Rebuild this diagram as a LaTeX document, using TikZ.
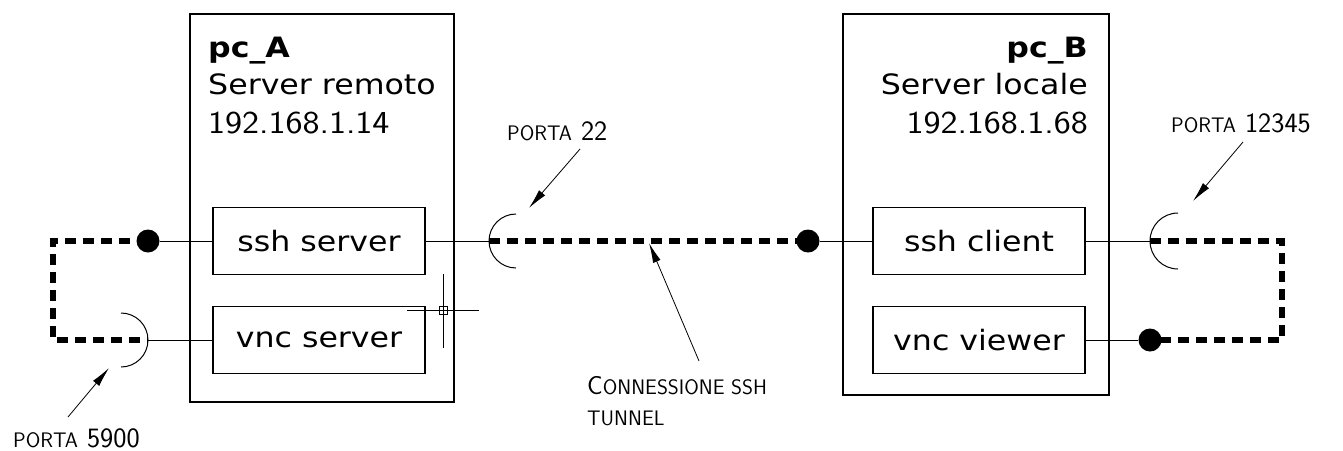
\documentclass[tikz,border=0pt]{standalone}
\usepackage{fontspec}
\usepackage{graphicx}
\newfontfamily\boxfont{DejaVu Sans}[FakeStretch=1.13]
\usetikzlibrary{arrows.meta}
\newcommand\smallcp[1]{{\fontsize{21}{21}\selectfont #1}}
\newcommand\bigcp[1]{{\fontsize{26}{26}\selectfont #1}}
\newcommand\digcp[1]{{\fontsize{28}{28}\selectfont #1}}
\newcommand\ipwide[1]{\scalebox{1.13}[1]{#1}}
\begin{document}
\begin{tikzpicture}[x=1pt,y=-1pt,
  frame/.style={draw,line width=1.2pt,inner sep=0pt},
  box/.style={draw,line width=1.2pt,minimum width=212pt,minimum height=67pt,inner sep=0pt,
    font=\boxfont\fontsize{28}{30}\selectfont},
  thinline/.style={line width=1pt},
  tunnel/.style={line width=5.5pt,dash pattern=on 11pt off 7pt,line join=miter},
  dot/.style={circle,fill,inner sep=0pt,minimum size=23pt},
  ptr/.style={line width=0.8pt,-{Latex[length=20pt,width=8pt]}},
  head/.style={inner sep=0pt,font=\boxfont\fontsize{28}{30}\selectfont},
  ip/.style={inner sep=0pt,font=\sffamily\fontsize{32}{32}\selectfont},
  lbl/.style={inner sep=0pt,anchor=base west,font=\sffamily}]
\useasboundingbox (0,0) rectangle (1343,450);

% computers
\node[frame,minimum width=264pt,minimum height=388pt] (pcA) at (322,208) {};
\node[frame,minimum width=266pt,minimum height=381pt] (pcB) at (976,204.5) {};

\node[head,anchor=base west,font=\boxfont\bfseries\fontsize{28}{30}\selectfont] (tA1) at (208,57) {pc\_A};
\node[head,anchor=base west] (tA2) at (208,94) {Server remoto};
\node[ip,anchor=base west] (tA3) at (208,133) {\ipwide{192.168.1.14}};

\node[head,anchor=base east,font=\boxfont\bfseries\fontsize{28}{30}\selectfont] (tB1) at (1088,57) {pc\_B};
\node[head,anchor=base east] (tB2) at (1088,94) {Server locale};
\node[ip,anchor=base east] (tB3) at (1088,133) {\ipwide{192.168.1.68}};

% programs
\node[box] (sshs) at (319,241) {ssh server};
\node[box] (vncs) at (319,340) {vnc server};
\node[box] (sshc) at (979,241) {ssh client};
\node[box] (vncv) at (979,340) {vnc viewer};

% ports
\coordinate (p22) at (489,241);
\coordinate (p5900) at (148,340);
\coordinate (p12345) at (1150,241);
\coordinate (cl1) at (53,241);
\coordinate (cl2) at (53,340);
\coordinate (cr1) at (1282,241);
\coordinate (cr2) at (1282,340);

% tunnels (dashed)
\draw[tunnel] (148,241) -- (cl1) -- (cl2) -- (p5900);
\draw[tunnel] (p22) -- (808,241);
\draw[tunnel] (p12345) -- (cr1) -- (cr2) -- (1150,340);

% bullets
\node[dot] (b1) at (148,241) {};
\node[dot] (b2) at (808,241) {};
\node[dot] (b4) at (1150,340) {};

% thin connections
\draw[thinline] (b1) -- (sshs.west);
\draw[thinline] (p5900) -- (vncs.west);
\draw[thinline] (sshs.east) -- (p22);
\draw[thinline] (b2) -- (sshc.west);
\draw[thinline] (sshc.east) -- (p12345);
\draw[thinline] (b4) -- (vncv.east);

% port arcs
\draw[thinline] (516,214) arc[start angle=270,end angle=90,radius=27];
\draw[thinline] (121,313) arc[start angle=-90,end angle=90,radius=27];
\draw[thinline] (1178,213) arc[start angle=270,end angle=90,radius=28];

% crosshair cursor
\draw[line width=0.8pt] (443,274) -- (443,348);
\draw[line width=0.8pt] (407,310) -- (479,310);
\draw[line width=0.8pt] (439,306) rectangle (447,314);

% labels
\node[lbl] (l22) at (507,140) {\smallcp{PORTA}\hspace{9pt}\digcp{22}};
\node[lbl] (l5900) at (13,447) {\smallcp{PORTA}\hspace{9pt}\digcp{5900}};
\node[lbl] (l12345) at (1171,132) {\smallcp{PORTA}\hspace{9pt}\digcp{12345}};
\node[lbl] (lc1) at (587,394) {\bigcp{C}\smallcp{ONNESSIONE SSH}};
\node[lbl] (lc2) at (587,425) {\smallcp{TUNNEL}};

% pointer arrows
\coordinate (a22s) at (580,149);  \coordinate (a22e) at (529,208);
\coordinate (a59s) at (68,417);   \coordinate (a59e) at (109,368);
\coordinate (a12s) at (1243,142); \coordinate (a12e) at (1193,201);
\coordinate (acs) at (699,361);   \coordinate (ace) at (649,243);
\draw[ptr] (a22s) -- (a22e);
\draw[ptr] (a59s) -- (a59e);
\draw[ptr] (a12s) -- (a12e);
\draw[ptr] (acs) -- (ace);
\end{tikzpicture}
\end{document}
